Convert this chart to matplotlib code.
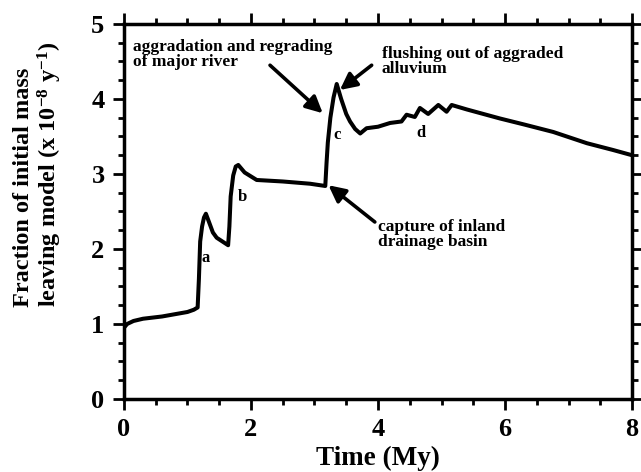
import matplotlib
matplotlib.use("Agg")
import matplotlib.pyplot as plt
from matplotlib.ticker import MultipleLocator

# curve (time in My, rate in 1e-8 / y)
time = [0.0, 0.05, 0.15, 0.3, 0.6, 0.8, 1.0, 1.1, 1.16,
        1.18, 1.2, 1.23, 1.26, 1.29, 1.33, 1.4, 1.46, 1.55, 1.64,
        1.66, 1.68, 1.72, 1.76, 1.8, 1.9, 2.09, 2.5, 2.93, 3.17,
        3.19, 3.21, 3.25, 3.3, 3.35, 3.42, 3.5, 3.56, 3.64, 3.72,
        3.82, 4.0, 4.19, 4.37, 4.45, 4.58, 4.66, 4.79, 4.95, 5.08,
        5.16, 5.4, 5.92, 6.3, 6.76, 7.29, 7.7, 8.0]
rate = [0.95, 1.0, 1.04, 1.07, 1.1, 1.13, 1.16, 1.19, 1.22,
        1.6, 2.1, 2.3, 2.42, 2.47, 2.38, 2.22, 2.15, 2.1, 2.05,
        2.3, 2.7, 2.98, 3.1, 3.12, 3.02, 2.92, 2.9, 2.87, 2.84,
        3.15, 3.42, 3.75, 4.02, 4.2, 4.0, 3.8, 3.7, 3.6, 3.54,
        3.61, 3.63, 3.68, 3.7, 3.79, 3.76, 3.88, 3.8, 3.92, 3.83,
        3.92, 3.86, 3.74, 3.66, 3.56, 3.41, 3.32, 3.25]

stage_labels = ["a", "b", "c", "d"]
stage_x = [1.29, 1.86, 3.35, 4.67]
stage_y = [1.88, 2.69, 3.52, 3.55]

plt.rcParams['font.family'] = ['Liberation Serif', 'DejaVu Serif']
plt.rcParams['font.weight'] = 'bold'
plt.rcParams['mathtext.fontset'] = 'custom'
plt.rcParams['mathtext.rm'] = 'Liberation Serif:bold'
plt.rcParams['mathtext.default'] = 'rm'

fig = plt.figure(figsize=(6.41, 4.72), dpi=100)
ax = fig.add_axes([0.1934, 0.1547, 0.7926, 0.7945])

ax.plot(time, rate, color='k', lw=2.9, solid_joinstyle='round', solid_capstyle='round')

ax.set_xlim(0, 8)
ax.set_ylim(0, 5)
ax.set_xticks([0, 2, 4, 6, 8])
ax.xaxis.set_minor_locator(MultipleLocator(0.5))
ax.yaxis.set_major_locator(MultipleLocator(1))
ax.yaxis.set_minor_locator(MultipleLocator(0.25))

for side in ax.spines.values():
    side.set_linewidth(2.5)
ax.tick_params(which='both', direction='out', top=True, right=True, width=2)
ax.tick_params(which='major', length=8, labelsize=19, pad=6)
ax.tick_params(which='minor', length=4)

ax.set_xlabel("Time (My)", fontsize=19.5, fontweight='bold', labelpad=3)
ax.set_ylabel("Fraction of initial mass\nleaving model (x 10$^{-8}$ y$^{-1}$)",
              fontsize=17.5, fontweight='bold', linespacing=1.1,
              multialignment='left')
ax.yaxis.set_label_coords(-0.118, 0.6)

for lab, x, y in zip(stage_labels, stage_x, stage_y):
    ax.text(x, y, lab, fontsize=12, fontweight='bold', ha='center', va='center')

arrow = dict(arrowstyle='-|>', color='k', lw=2.6, mutation_scale=25,
             shrinkA=0, shrinkB=0)
ax.text(0.14, 4.8, "aggradation and regrading\nof major river",
        fontsize=12.5, fontweight='bold', ha='left', va='top', linespacing=0.9)
ax.annotate("", xy=(3.13, 3.81), xytext=(2.3, 4.45), arrowprops=arrow)

ax.text(4.06, 4.7, "flushing out of aggraded\nalluvium",
        fontsize=12.5, fontweight='bold', ha='left', va='top', linespacing=0.9)
ax.annotate("", xy=(3.4, 4.12), xytext=(3.9, 4.45), arrowprops=arrow)

ax.text(4.0, 2.4, "capture of inland\ndrainage basin",
        fontsize=12.5, fontweight='bold', ha='left', va='top', linespacing=0.9)
ax.annotate("", xy=(3.22, 2.85), xytext=(3.95, 2.36), arrowprops=arrow)

fig.savefig("out.png", dpi=100)
